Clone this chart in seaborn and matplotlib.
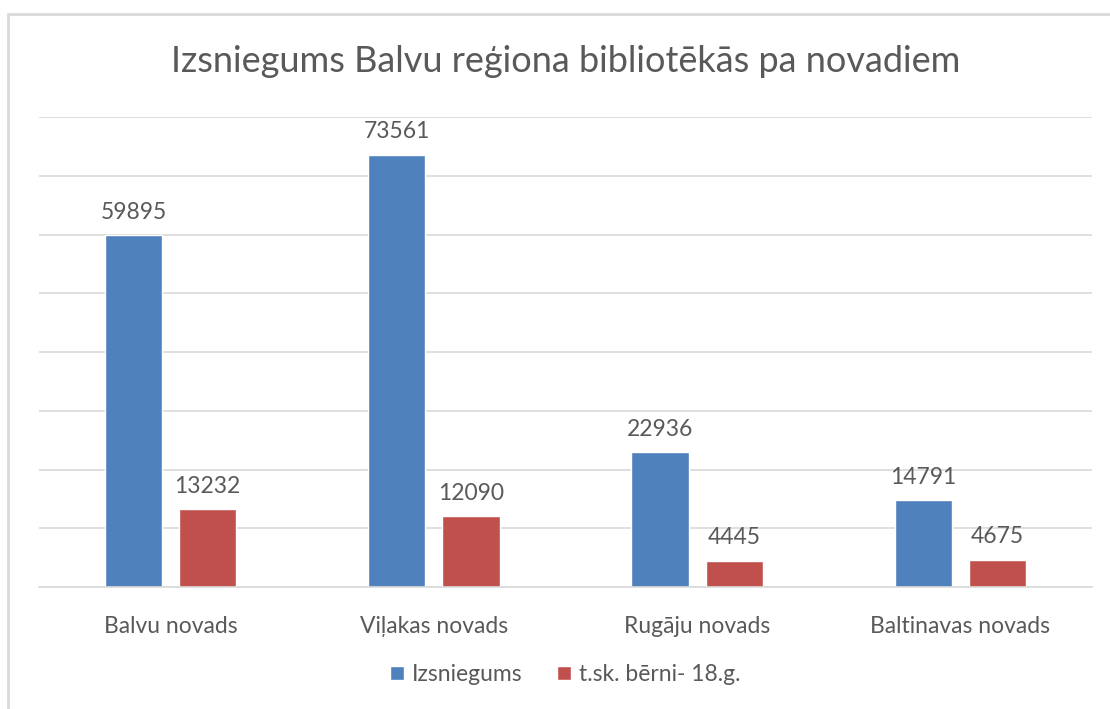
import pandas as pd
import matplotlib.pyplot as plt
import matplotlib.patches as mpatches
import seaborn as sns

# Data
novadi = ['Balvu novads', 'Viļakas novads', 'Rugāju novads', 'Baltinavas novads']
izsniegums = [59895, 73561, 22936, 14791]
berni = [13232, 12090, 4445, 4675]
series_names = ['Izsniegums', 't.sk. bērni- 18.g.']
colors = ['#4F81BD', '#C0504D']

df = pd.DataFrame({
    'novads': novadi * 2,
    'vertiba': izsniegums + berni,
    'serija': [series_names[0]] * len(novadi) + [series_names[1]] * len(novadi),
})

sns.set_style('white')
plt.rcParams['font.family'] = ['Lato', 'DejaVu Sans']
text_col = '#595959'

fig = plt.figure(figsize=(11.1, 7.09), dpi=100)
ax = fig.add_axes([0.0351, 0.172, 0.9487, 0.663])

sns.barplot(data=df, x='novads', y='vertiba', hue='serija', palette=colors,
            width=0.564, gap=0.23, ax=ax, saturation=1, legend=True)

ax.set_ylim(0, 80000)
ax.set_xlim(-0.5, len(novadi) - 0.5)
ax.set_yticks(range(0, 80001, 10000))
ax.yaxis.grid(True, color='#D9D9D9', linewidth=1.2)
ax.set_axisbelow(True)
ax.tick_params(axis='y', left=False, labelleft=False)
ax.tick_params(axis='x', bottom=False, pad=17, labelsize=16.5, labelcolor=text_col)
for s in ['top', 'left', 'right']:
    ax.spines[s].set_visible(False)
ax.spines['bottom'].set_color('#D9D9D9')
ax.spines['bottom'].set_linewidth(1.2)
ax.set_xlabel('')
ax.set_ylabel('')

for cont in ax.containers:
    ax.bar_label(cont, fmt='%d', padding=9, fontsize=16.5, color=text_col)

ax.legend(loc='upper center', bbox_to_anchor=(0.5, -0.12), ncol=2, frameon=False,
          fontsize=16.5, labelcolor=text_col, handlelength=0.6, handleheight=0.6,
          handletextpad=0.35, columnspacing=1.5)

fig.text(0.51, 0.913, 'Izsniegums Balvu reģiona bibliotēkās pa novadiem',
         ha='center', va='center', fontsize=26, color=text_col)

# light chart frame like the spreadsheet chart area
frame = mpatches.Rectangle((8 / 1110, -0.05), 1.2, 1.05 - 14 / 709, transform=fig.transFigure,
                           fill=False, edgecolor='#D9D9D9', linewidth=2)
fig.patches.append(frame)

fig.savefig('out.png', dpi=100)
